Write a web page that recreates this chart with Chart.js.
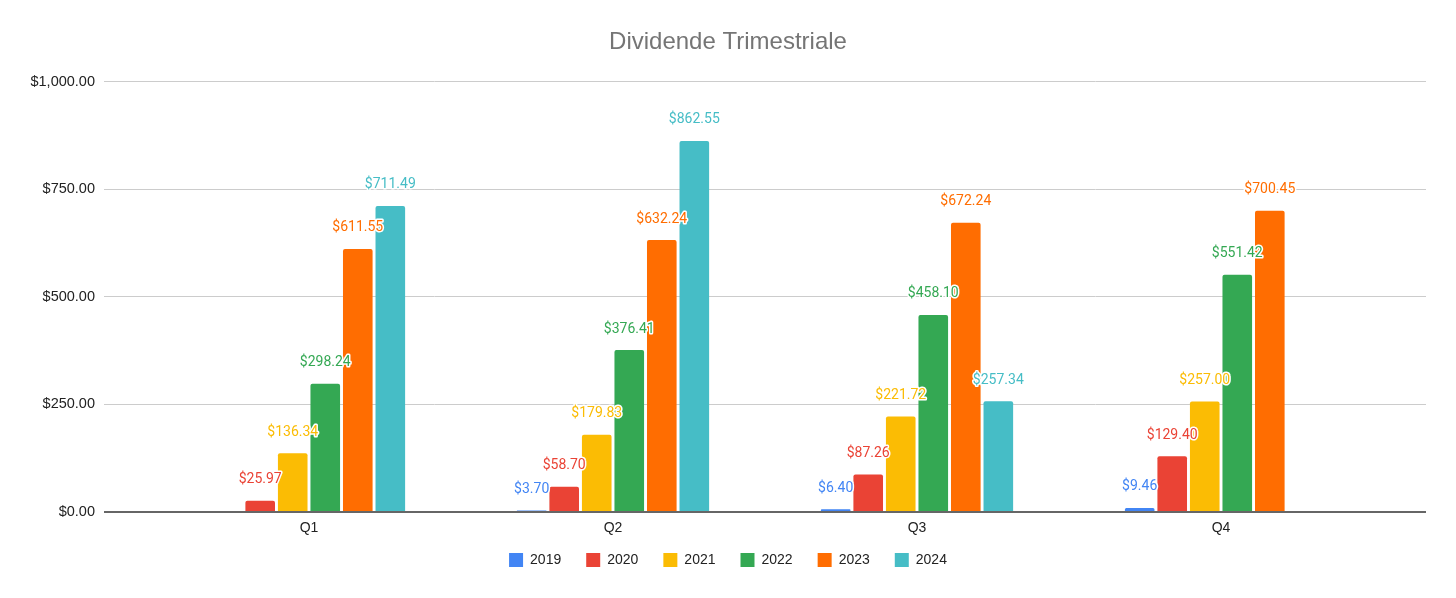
<!DOCTYPE html>
<html>
<head>
<meta charset="utf-8">
<script src="https://cdn.jsdelivr.net/npm/chart.js@4.4.1/dist/chart.umd.min.js"></script>
<style>
  html, body { margin: 0; padding: 0; background: #fff; }
  #wrap { width: 1456px; height: 598px; }
</style>
</head>
<body>
<div id="wrap"><canvas id="c"></canvas></div>
<script>
const categories = ['Q1', 'Q2', 'Q3', 'Q4'];
const seriesNames = ['2019', '2020', '2021', '2022', '2023', '2024'];
const s2019 = [null, 3.70, 6.40, 9.46];
const s2020 = [25.97, 58.70, 87.26, 129.40];
const s2021 = [136.34, 179.83, 221.72, 257.00];
const s2022 = [298.24, 376.41, 458.10, 551.42];
const s2023 = [611.55, 632.24, 672.24, 700.45];
const s2024 = [711.49, 862.55, 257.34, null];
const yTicks = [0, 250, 500, 750, 1000];
const colors = ['#4285F4', '#EA4335', '#FBBC04', '#34A853', '#FF6D01', '#46BDC6'];

const allSeries = [s2019, s2020, s2021, s2022, s2023, s2024];

const fmt = v => '$' + v.toLocaleString('en-US', {minimumFractionDigits: 2, maximumFractionDigits: 2});

const datasets = allSeries.map((vals, i) => ({
  label: seriesNames[i],
  data: vals.map((v, j) => ({x: j + 1, y: v})),
  backgroundColor: colors[i],
  borderRadius: {topLeft: 2, topRight: 2, bottomLeft: 0, bottomRight: 0},
  borderSkipped: 'bottom',
  categoryPercentage: 0.642,
  barPercentage: 0.91
}));

const labelPlugin = {
  id: 'valueLabels',
  afterDatasetsDraw(chart) {
    const ctx = chart.ctx;
    ctx.save();
    ctx.font = '14px Roboto';
    ctx.textAlign = 'center';
    ctx.textBaseline = 'middle';
    ctx.lineJoin = 'round';
    chart.data.datasets.forEach((ds, di) => {
      const meta = chart.getDatasetMeta(di);
      meta.data.forEach((el, i) => {
        const v = ds.data[i].y;
        if (v === null || v === undefined) return;
        const t = fmt(v);
        ctx.lineWidth = 3;
        ctx.strokeStyle = '#ffffff';
        ctx.strokeText(t, el.x, el.y - 21);
        ctx.fillStyle = colors[di];
        ctx.fillText(t, el.x, el.y - 21);
      });
    });
    ctx.restore();
  }
};

// pull the legend a little closer to the axis labels
const legendShift = {
  id: 'legendShift',
  afterLayout(chart) {
    const l = chart.legend;
    if (l) { l.top -= 8; l.bottom -= 8; }
  }
};

new Chart(document.getElementById('c'), {
  type: 'bar',
  data: { datasets },
  plugins: [labelPlugin, legendShift],
  options: {
    responsive: true,
    maintainAspectRatio: false,
    animation: false,
    layout: { padding: { left: 15, right: 15, top: 0, bottom: 13 } },
    plugins: {
      title: {
        display: true,
        text: 'Dividende Trimestriale',
        color: '#757575',
        font: { family: 'Liberation Sans', size: 24, weight: 'normal' },
        padding: { top: 28, bottom: 25 }
      },
      legend: {
        position: 'bottom',
        labels: {
          color: '#222',
          font: { family: 'Liberation Sans', size: 14 },
          boxWidth: 14,
          boxHeight: 14,
          padding: 25
        }
      },
      tooltip: { enabled: false }
    },
    scales: {
      x: {
        type: 'linear',
        min: 0.3257,
        max: 4.6743,
        offset: false,
        grid: { display: false, drawTicks: false },
        border: { display: false },
        afterBuildTicks: s => {
          s.ticks = categories.map((c, i) => ({ value: i + 1 }));
        },
        afterFit: s => { s.height = 24; },
        ticks: {
          color: '#222',
          font: { family: 'Liberation Sans', size: 14 },
          padding: 8,
          autoSkip: false,
          maxRotation: 0,
          callback: v => categories[v - 1] || ''
        }
      },
      y: {
        min: 0,
        max: 1000,
        afterBuildTicks: s => {
          s.ticks = yTicks.map(v => ({ value: v }));
        },
        afterFit: s => { s.width = 89; },
        border: { display: false },
        grid: {
          drawTicks: false,
          color: c => c.tick && c.tick.value === 0 ? '#666666' : '#cccccc',
          lineWidth: c => c.tick && c.tick.value === 0 ? 2 : 1
        },
        ticks: {
          color: '#222',
          font: { family: 'Liberation Sans', size: 14.5 },
          padding: 9,
          callback: v => fmt(v)
        }
      },
      yRight: {
        position: 'right',
        display: true,
        min: 0,
        max: 1000,
        grid: { display: false, drawTicks: false },
        border: { display: false },
        ticks: { display: false },
        afterFit: s => { s.width = 15; }
      }
    }
  }
});
</script>
</body>
</html>
